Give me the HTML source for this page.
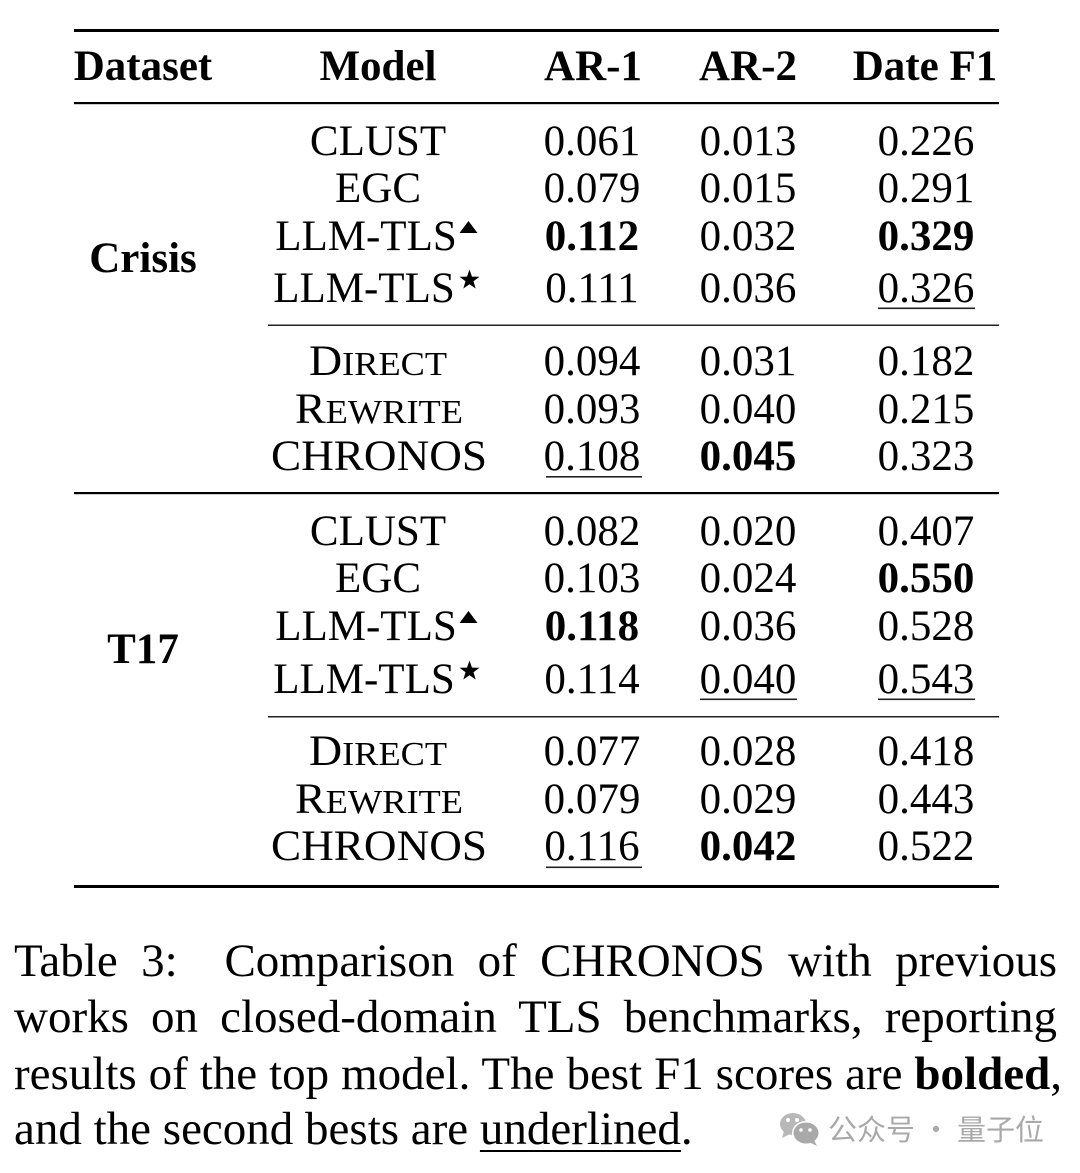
<!DOCTYPE html>
<html>
<head>
<meta charset="utf-8">
<style>
  html, body { margin:0; padding:0; background:#fff; }
  body { width:1080px; height:1173px; position:relative; overflow:hidden; }
  svg { position:absolute; left:0; top:0; }
  .t { font-family:"Liberation Serif", "Times New Roman", serif; font-size:43px; fill:#000; }
  .b { font-weight:bold; }
  .cap { position:absolute; left:14px; width:1043px; font-family:"Liberation Serif", "Times New Roman", serif;
         font-size:47px; line-height:56px; color:#000; text-align:justify; text-align-last:justify; word-spacing:-4px; white-space:normal; }
  .cap4 { position:absolute; left:14px; font-family:"Liberation Serif", "Times New Roman", serif;
          font-size:47px; line-height:56px; color:#000; white-space:nowrap; }
  .cap4 u { text-decoration:underline; text-decoration-thickness:2px; text-underline-offset:6px; }
</style>
</head>
<body>
<svg width="1080" height="1173" viewBox="0 0 1080 1173" xmlns="http://www.w3.org/2000/svg">
  <!-- rules -->
  <rect x="74" y="29" width="925" height="3" fill="#000"/>
  <rect x="74" y="102" width="925" height="2.2" fill="#000"/>
  <rect x="268" y="324.5" width="731" height="1.5" fill="#222"/>
  <rect x="74" y="492" width="925" height="2.2" fill="#000"/>
  <rect x="268" y="716" width="731" height="1.5" fill="#222"/>
  <rect x="74" y="885" width="925" height="3" fill="#000"/>

  <!-- header -->
  <g class="t b" text-anchor="middle">
    <text x="143" y="80">Dataset</text>
    <text x="378" y="80">Model</text>
    <text x="593" y="80">AR-1</text>
    <text x="748" y="80">AR-2</text>
    <text x="925" y="80">Date F1</text>
  </g>

  <!-- dataset labels -->
  <g class="t b" text-anchor="middle">
    <text x="143" y="272">Crisis</text>
    <text x="143" y="663">T17</text>
  </g>

  <!-- Crisis block models -->
  <g class="t" text-anchor="middle">
    <text x="378" y="155">CLUST</text>
    <text x="378" y="202">EGC</text>
    <text x="366" y="250">LLM-TLS</text>
    <text x="364" y="302">LLM-TLS</text>
    <text x="378" y="375" textLength="138" lengthAdjust="spacingAndGlyphs">D<tspan font-size="34">IRECT</tspan></text>
    <text x="379" y="423" textLength="168" lengthAdjust="spacingAndGlyphs">R<tspan font-size="34">EWRITE</tspan></text>
    <text x="379" y="470" textLength="216" lengthAdjust="spacingAndGlyphs">CHRONOS</text>
  </g>
  <!-- T17 block models -->
  <g class="t" text-anchor="middle">
    <text x="378" y="545">CLUST</text>
    <text x="378" y="592">EGC</text>
    <text x="366" y="640">LLM-TLS</text>
    <text x="364" y="693">LLM-TLS</text>
    <text x="378" y="765" textLength="138" lengthAdjust="spacingAndGlyphs">D<tspan font-size="34">IRECT</tspan></text>
    <text x="379" y="813" textLength="168" lengthAdjust="spacingAndGlyphs">R<tspan font-size="34">EWRITE</tspan></text>
    <text x="379" y="860" textLength="216" lengthAdjust="spacingAndGlyphs">CHRONOS</text>
  </g>

  <!-- superscript symbols -->
  <polygon points="459.5,233 477.5,233 468.5,221" fill="#000"/>
  <polygon points="459.5,623 477.5,623 468.5,611" fill="#000"/>
  <g fill="#000">
    <polygon points="469.5,269.5 471.97,276.6 479.49,276.76 473.49,281.3 475.67,288.49 469.5,284.2 463.33,288.49 465.51,281.3 459.51,276.76 467.03,276.6"/>
    <polygon points="469.5,660.5 471.97,667.6 479.49,667.76 473.49,672.3 475.67,679.49 469.5,675.2 463.33,679.49 465.51,672.3 459.51,667.76 467.03,667.6"/>
  </g>

  <!-- Crisis values -->
  <g class="t" text-anchor="middle">
    <text x="592" y="155">0.061</text><text x="748" y="155">0.013</text><text x="926" y="155">0.226</text>
    <text x="592" y="202">0.079</text><text x="748" y="202">0.015</text><text x="926" y="202">0.291</text>
    <text x="592" y="250" class="b">0.112</text><text x="748" y="250">0.032</text><text x="926" y="250" class="b">0.329</text>
    <text x="592" y="302">0.111</text><text x="748" y="302">0.036</text><text x="926" y="302">0.326</text>
    <text x="592" y="375">0.094</text><text x="748" y="375">0.031</text><text x="926" y="375">0.182</text>
    <text x="592" y="423">0.093</text><text x="748" y="423">0.040</text><text x="926" y="423">0.215</text>
    <text x="592" y="470">0.108</text><text x="748" y="470" class="b">0.045</text><text x="926" y="470">0.323</text>
  </g>
  <!-- T17 values -->
  <g class="t" text-anchor="middle">
    <text x="592" y="545">0.082</text><text x="748" y="545">0.020</text><text x="926" y="545">0.407</text>
    <text x="592" y="592">0.103</text><text x="748" y="592">0.024</text><text x="926" y="592" class="b">0.550</text>
    <text x="592" y="640" class="b">0.118</text><text x="748" y="640">0.036</text><text x="926" y="640">0.528</text>
    <text x="592" y="693">0.114</text><text x="748" y="693">0.040</text><text x="926" y="693">0.543</text>
    <text x="592" y="765">0.077</text><text x="748" y="765">0.028</text><text x="926" y="765">0.418</text>
    <text x="592" y="813">0.079</text><text x="748" y="813">0.029</text><text x="926" y="813">0.443</text>
    <text x="592" y="860">0.116</text><text x="748" y="860" class="b">0.042</text><text x="926" y="860">0.522</text>
  </g>

  <!-- underlines -->
  <g fill="#222">
    <rect x="878" y="307.5" width="97" height="1.6"/>
    <rect x="546" y="476" width="96" height="1.6"/>
    <rect x="700" y="698.5" width="97" height="1.6"/>
    <rect x="878" y="698.5" width="97" height="1.6"/>
    <rect x="546" y="866.5" width="96" height="1.6"/>
  </g>

  <!-- watermark icon -->
  <g>
    <ellipse cx="793" cy="1124" rx="13" ry="11" fill="#b8b8b8"/>
    <polygon points="784,1131 782,1138 790,1134" fill="#b8b8b8"/>
    <ellipse cx="806" cy="1133" rx="14" ry="12" fill="#fff"/>
    <ellipse cx="806" cy="1133" rx="12.5" ry="10.5" fill="#a9a9a9"/>
    <polygon points="814,1140 817,1146 809,1142" fill="#a9a9a9"/>
    <circle cx="788" cy="1120" r="2" fill="#fff"/>
    <circle cx="797" cy="1120" r="2" fill="#fff"/>
    <circle cx="801" cy="1130" r="1.8" fill="#fff"/>
    <circle cx="810" cy="1130" r="1.8" fill="#fff"/>
  </g>
  <text x="828" y="1140" style="font-family:'Noto Sans CJK SC','WenQuanYi Zen Hei',sans-serif;font-size:29px;fill:#a9a9a9;" textLength="216" lengthAdjust="spacingAndGlyphs">公众号 · 量子位</text>
</svg>

<div class="cap" style="top:933px;">Table 3:&nbsp; Comparison of CHRONOS with previous</div>
<div class="cap" style="top:989px;">works on closed-domain TLS benchmarks, reporting</div>
<div class="cap" style="top:1046px; width:1048px;">results of the top model. The best F1 scores are <b>bolded</b>,</div>
<div class="cap4" style="top:1101px;">and the second bests are <u>underlined</u>.</div>
</body>
</html>
